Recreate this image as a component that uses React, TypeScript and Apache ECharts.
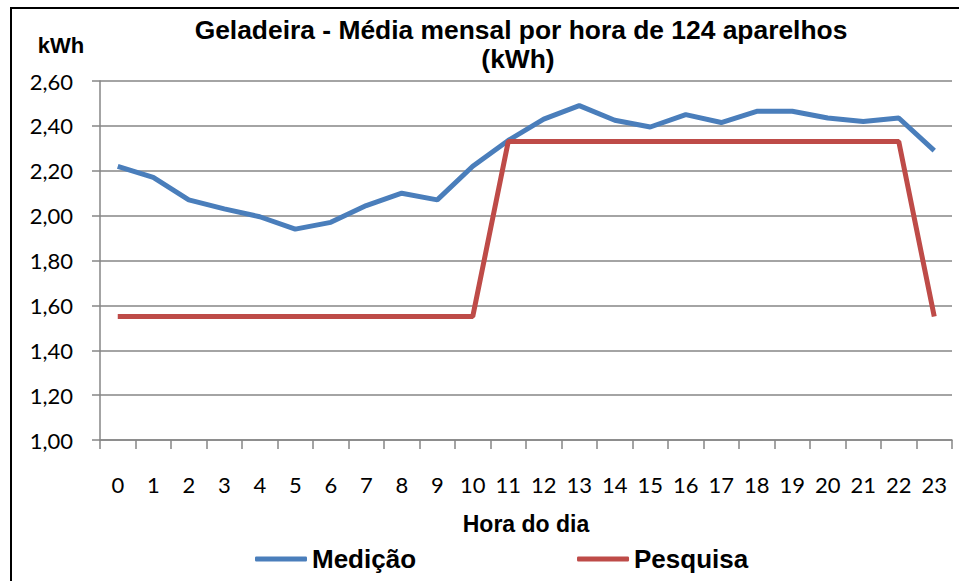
import React, { useEffect, useRef } from "react";
import * as echarts from "echarts";

const hours = ["0","1","2","3","4","5","6","7","8","9","10","11","12","13","14","15","16","17","18","19","20","21","22","23"];
const medicao = [2.22, 2.17, 2.07, 2.03, 1.995, 1.94, 1.97, 2.045, 2.10, 2.07, 2.22, 2.335, 2.43, 2.49, 2.425, 2.395, 2.45, 2.415, 2.465, 2.465, 2.435, 2.42, 2.435, 2.29];
const pesquisa = [1.55, 1.55, 1.55, 1.55, 1.55, 1.55, 1.55, 1.55, 1.55, 1.55, 1.55, 2.33, 2.33, 2.33, 2.33, 2.33, 2.33, 2.33, 2.33, 2.33, 2.33, 2.33, 2.33, 1.55];
const titleLines = ["Geladeira - Média mensal por hora de 124 aparelhos", "(kWh)"];
const seriesNames = ["Medição", "Pesquisa"];

export default function App() {
  const ref = useRef<HTMLDivElement>(null);
  useEffect(() => {
    if (!ref.current) return;
    const chart = echarts.init(ref.current, null, { renderer: "svg" });
    const gray = "#868686";
    chart.setOption({
      animation: false,
      backgroundColor: "#fff",
      grid: { left: 100, right: 7, top: 81, bottom: 141 },
      graphic: [
        { type: "rect", shape: { x: 11, y: 8, width: 1000, height: 1000 }, style: { fill: "none", stroke: "#000", lineWidth: 2 }, silent: true },
        { type: "text", x: 521, y: 30, style: { text: titleLines[0], font: "bold 26.4px 'Liberation Sans', Arial, sans-serif", fill: "#000", textAlign: "center", textVerticalAlign: "middle" } },
        { type: "text", x: 518, y: 59, style: { text: titleLines[1], font: "bold 26.4px 'Liberation Sans', Arial, sans-serif", fill: "#000", textAlign: "center", textVerticalAlign: "middle" } },
        { type: "text", x: 61, y: 45, style: { text: "kWh", font: "bold 22px 'Liberation Sans', Arial, sans-serif", fill: "#000", textAlign: "center", textVerticalAlign: "middle" } },
      ],
      legend: {
        left: 255,
        top: 546,
        padding: 0,
        icon: "roundRect",
        itemWidth: 52,
        itemHeight: 5,
        itemGap: 161,
        textStyle: { fontFamily: "'Liberation Sans', Arial, sans-serif", fontWeight: "bold", fontSize: 26, color: "#000" },
        data: seriesNames,
      },
      xAxis: {
        type: "category",
        data: hours,
        boundaryGap: true,
        name: "Hora do dia",
        nameLocation: "middle",
        nameGap: 72,
        nameTextStyle: { fontFamily: "'Liberation Sans', Arial, sans-serif", fontWeight: "bold", fontSize: 23, color: "#000" },
        axisLine: { lineStyle: { color: gray, width: 1.5 } },
        axisTick: { show: true, length: 9, lineStyle: { color: gray, width: 1.5 } },
        axisLabel: { margin: 33, fontFamily: "Lato, sans-serif", fontSize: 22, color: "#000", interval: 0 },
        splitLine: { show: false },
      },
      yAxis: {
        type: "value",
        min: 1,
        max: 2.6,
        interval: 0.2,
        axisLine: { show: true, lineStyle: { color: gray, width: 1.5 } },
        axisTick: { show: true, length: 8, lineStyle: { color: gray, width: 1.5 } },
        axisLabel: { margin: 27, fontFamily: "Lato, sans-serif", fontSize: 22, color: "#000", formatter: (v: number) => v.toFixed(2).replace(".", ",") },
        splitLine: { show: true, lineStyle: { color: gray, width: 1.5 } },
      },
      series: [
        { name: seriesNames[0], type: "line", data: medicao, symbol: "none", lineStyle: { color: "#4a7ebb", width: 5 }, itemStyle: { color: "#4a7ebb" } },
        { name: seriesNames[1], type: "line", data: pesquisa, symbol: "none", lineStyle: { color: "#be4b48", width: 5 }, itemStyle: { color: "#be4b48" } },
      ],
    });
    return () => chart.dispose();
  }, []);
  return <div ref={ref} style={{ position: "absolute", left: 0, top: 0, width: 959, height: 581 }} />;
}
